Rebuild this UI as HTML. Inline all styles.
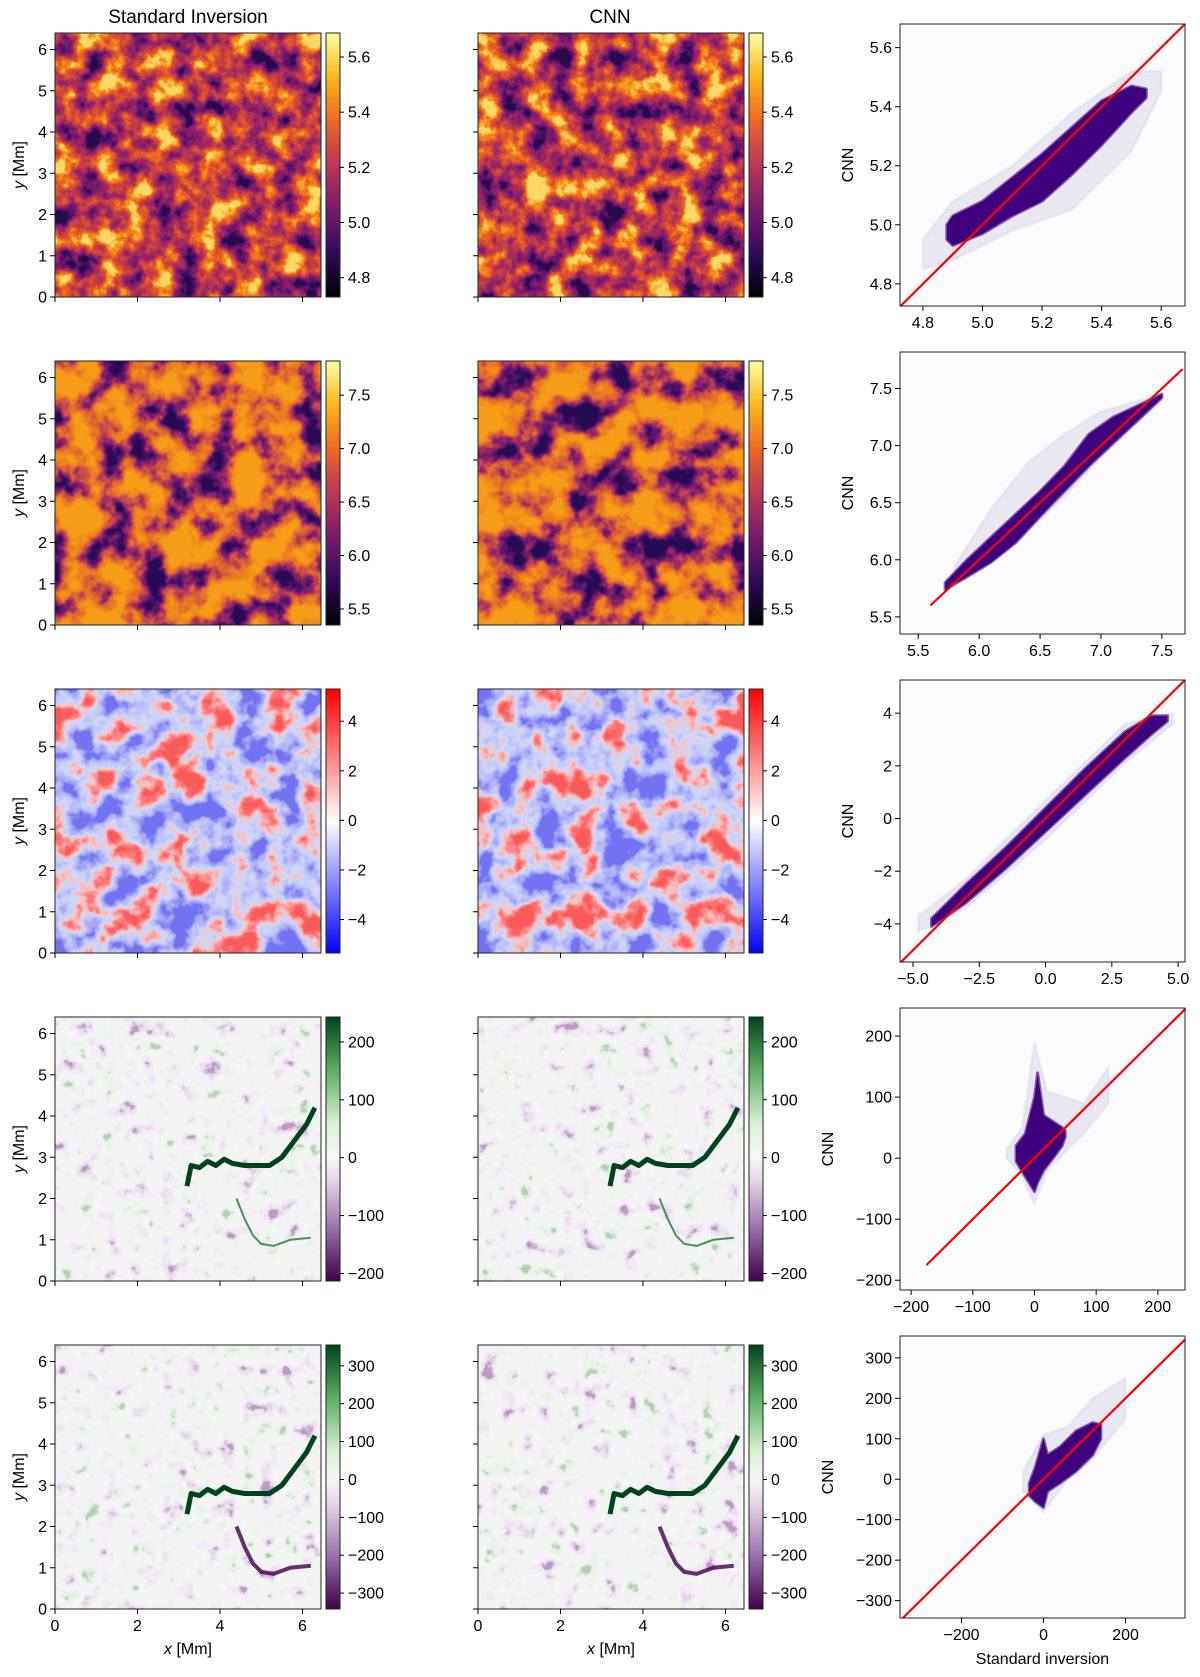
<!DOCTYPE html>
<html><head><meta charset="utf-8">
<style>
html,body{margin:0;padding:0;background:#fff;}
svg{display:block;font-family:"Liberation Sans","DejaVu Sans",sans-serif;}
</style></head>
<body>
<svg id="fig" width="1200" height="1677" viewBox="0 0 1200 1677" xmlns="http://www.w3.org/2000/svg">
<defs>
  <filter id="f-inferno" x="0" y="0" width="1" height="1" color-interpolation-filters="sRGB">
    <feTurbulence type="fractalNoise" baseFrequency="0.04" numOctaves="5" seed="3"/>
    <feColorMatrix type="matrix" values="1 0 0 0 0 1 0 0 0 0 1 0 0 0 0 0 0 0 0 1"/>
    <feComponentTransfer><feFuncR type="linear" slope="2.1" intercept="-0.52"/><feFuncG type="linear" slope="2.1" intercept="-0.52"/><feFuncB type="linear" slope="2.1" intercept="-0.52"/></feComponentTransfer>
    <feComponentTransfer>
      <feFuncR type="table" tableValues="0.15 0.35 0.5 0.62 0.74 0.85 0.93 0.98 0.99"/>
      <feFuncG type="table" tableValues="0.04 0.07 0.11 0.15 0.22 0.3 0.42 0.6 0.85"/>
      <feFuncB type="table" tableValues="0.3 0.42 0.42 0.38 0.3 0.2 0.12 0.1 0.4"/>
    </feComponentTransfer>
  </filter>
  <filter id="f-inferno2" x="0" y="0" width="1" height="1" color-interpolation-filters="sRGB">
    <feTurbulence type="fractalNoise" baseFrequency="0.03" numOctaves="4" seed="8"/>
    <feColorMatrix type="matrix" values="1 0 0 0 0 1 0 0 0 0 1 0 0 0 0 0 0 0 0 1"/>
    <feComponentTransfer><feFuncR type="linear" slope="2.6" intercept="-0.7"/><feFuncG type="linear" slope="2.6" intercept="-0.7"/><feFuncB type="linear" slope="2.6" intercept="-0.7"/></feComponentTransfer>
    <feComponentTransfer>
      <feFuncR type="table" tableValues="0.15 0.35 0.58 0.8 0.91 0.95 0.97"/>
      <feFuncG type="table" tableValues="0.04 0.08 0.15 0.3 0.45 0.55 0.62"/>
      <feFuncB type="table" tableValues="0.33 0.43 0.4 0.28 0.15 0.1 0.1"/>
    </feComponentTransfer>
  </filter>
  <filter id="f-bwr" x="0" y="0" width="1" height="1" color-interpolation-filters="sRGB">
    <feTurbulence type="fractalNoise" baseFrequency="0.03" numOctaves="4" seed="5"/>
    <feColorMatrix type="matrix" values="1 0 0 0 0 1 0 0 0 0 1 0 0 0 0 0 0 0 0 1"/>
    <feComponentTransfer><feFuncR type="linear" slope="2.5" intercept="-0.8"/><feFuncG type="linear" slope="2.5" intercept="-0.8"/><feFuncB type="linear" slope="2.5" intercept="-0.8"/></feComponentTransfer>
    <feComponentTransfer>
      <feFuncR type="table" tableValues="0.45 0.65 0.75 0.82 0.98 1 0.98"/>
      <feFuncG type="table" tableValues="0.45 0.65 0.77 0.85 0.75 0.5 0.35"/>
      <feFuncB type="table" tableValues="0.95 0.97 0.98 0.98 0.75 0.5 0.35"/>
    </feComponentTransfer>
  </filter>
  <filter id="f-prgn" x="0" y="0" width="1" height="1" color-interpolation-filters="sRGB">
    <feTurbulence type="fractalNoise" baseFrequency="0.05" numOctaves="4" seed="11"/>
    <feColorMatrix type="matrix" values="1 0 0 0 0 1 0 0 0 0 1 0 0 0 0 0 0 0 0 1"/>
    <feComponentTransfer><feFuncR type="linear" slope="1.6" intercept="-0.3"/><feFuncG type="linear" slope="1.6" intercept="-0.3"/><feFuncB type="linear" slope="1.6" intercept="-0.3"/></feComponentTransfer>
    <feComponentTransfer>
      <feFuncR type="table" tableValues="0.75 0.9 0.94 0.95 0.96 0.96 0.95 0.93 0.9 0.7"/>
      <feFuncG type="table" tableValues="0.6 0.85 0.91 0.94 0.96 0.96 0.96 0.95 0.94 0.82"/>
      <feFuncB type="table" tableValues="0.78 0.92 0.95 0.96 0.96 0.96 0.95 0.93 0.9 0.7"/>
    </feComponentTransfer>
  </filter>
  <linearGradient id="g-inferno" x1="0" y1="1" x2="0" y2="0">
    <stop offset="0" stop-color="#000004"/><stop offset="0.17" stop-color="#320a5e"/><stop offset="0.33" stop-color="#781b6c"/><stop offset="0.5" stop-color="#bb3755"/><stop offset="0.67" stop-color="#ed6925"/><stop offset="0.83" stop-color="#fbb61a"/><stop offset="1" stop-color="#fcffa4"/>
  </linearGradient>
  <linearGradient id="g-bwr" x1="0" y1="1" x2="0" y2="0">
    <stop offset="0" stop-color="#0000ff"/><stop offset="0.5" stop-color="#ffffff"/><stop offset="1" stop-color="#ff0000"/>
  </linearGradient>
  <linearGradient id="g-prgn4" x1="0" y1="1" x2="0" y2="0">
    <stop offset="0" stop-color="#40004b"/><stop offset="0.2" stop-color="#9970ab"/><stop offset="0.38" stop-color="#e7d4e8"/><stop offset="0.47" stop-color="#f7f7f7"/><stop offset="0.6" stop-color="#d9f0d3"/><stop offset="0.8" stop-color="#5aae61"/><stop offset="1" stop-color="#00441b"/>
  </linearGradient>
  <linearGradient id="g-prgn5" x1="0" y1="1" x2="0" y2="0">
    <stop offset="0" stop-color="#40004b"/><stop offset="0.2" stop-color="#9970ab"/><stop offset="0.4" stop-color="#e7d4e8"/><stop offset="0.49" stop-color="#f7f7f7"/><stop offset="0.6" stop-color="#d9f0d3"/><stop offset="0.8" stop-color="#5aae61"/><stop offset="1" stop-color="#00441b"/>
  </linearGradient>
</defs>
<g id="root"></g>
</svg>
<script>
// ---- layout rows ----
var rowTops = [33, 361, 689, 1017, 1345];
// ---- colorbar data ----
var cbRanges = [[4.73, 5.687], [5.35, 7.82], [-5.35, 5.3], [-213, 243], [-342, 355]];
var cbTicks = [[4.8, 5.0, 5.2, 5.4, 5.6], [5.5, 6.0, 6.5, 7.0, 7.5], [-4, -2, 0, 2, 4], [-200, -100, 0, 100, 200], [-300, -200, -100, 0, 100, 200, 300]];
var cbLabels = [["4.8","5.0","5.2","5.4","5.6"], ["5.5","6.0","6.5","7.0","7.5"], ["\u22124","\u22122","0","2","4"], ["\u2212200","\u2212100","0","100","200"], ["\u2212300","\u2212200","\u2212100","0","100","200","300"]];
// ---- map axis data (Mm) ----
var mmTicks = [0, 1, 2, 3, 4, 5, 6];
var mmXTicks = [0, 2, 4, 6];
// filament feature (Mm coordinates) in field maps
var filX = [3.2, 3.3, 3.5, 3.7, 3.9, 4.1, 4.3, 4.6, 4.9, 5.2, 5.5, 5.8, 6.1, 6.3];
var filY = [2.3, 2.8, 2.75, 2.9, 2.8, 2.95, 2.85, 2.8, 2.8, 2.8, 3.0, 3.4, 3.8, 4.2];
var fil2X = [4.4, 4.6, 4.8, 5.0, 5.3, 5.7, 6.2];
var fil2Y = [2.0, 1.5, 1.1, 0.9, 0.85, 1.0, 1.05];
// ---- scatter data ----
var scXRange = [[4.723, 5.68], [5.35, 7.69], [-5.49, 5.26], [-218, 244], [-350, 345]];
var scYRange = [[4.725, 5.68], [5.35, 7.82], [-5.45, 5.26], [-216, 246], [-343, 354]];
var scXTicks = [[4.8,5.0,5.2,5.4,5.6],[5.5,6.0,6.5,7.0,7.5],[-5,-2.5,0,2.5,5],[-200,-100,0,100,200],[-200,0,200]];
var scXLabels = [["4.8","5.0","5.2","5.4","5.6"],["5.5","6.0","6.5","7.0","7.5"],["\u22125.0","\u22122.5","0.0","2.5","5.0"],["\u2212200","\u2212100","0","100","200"],["\u2212200","0","200"]];
var scYTicks = [[4.8,5.0,5.2,5.4,5.6],[5.5,6.0,6.5,7.0,7.5],[-4,-2,0,2,4],[-200,-100,0,100,200],[-300,-200,-100,0,100,200,300]];
var scYLabels = [["4.8","5.0","5.2","5.4","5.6"],["5.5","6.0","6.5","7.0","7.5"],["\u22124","\u22122","0","2","4"],["\u2212200","\u2212100","0","100","200"],["\u2212300","\u2212200","\u2212100","0","100","200","300"]];
var lineEnds = [[4.725, 5.68], [5.6, 7.67], [-5.45, 5.26], [-175, 245], [-343, 345]];
// dense band: x, lower y, upper y
var denseX = [[4.88,4.9,5.0,5.1,5.2,5.3,5.4,5.5,5.55],[5.72,5.9,6.1,6.3,6.5,6.7,6.9,7.1,7.3,7.5],[-4.3,-3,-1.5,0,1.5,3,4,4.6],[-30,-15,0,5,15,30,45,50],[-35,-20,0,10,40,80,120,140]];
var denseLo = [[4.95,4.93,4.97,5.03,5.08,5.17,5.27,5.38,5.43],[5.74,5.85,5.98,6.15,6.38,6.6,6.82,7.02,7.22,7.42],[-4.1,-3.2,-1.9,-0.5,0.9,2.3,3.2,3.7],[-5,-30,-55,-40,-20,0,20,35],[-40,-55,-70,-30,-10,20,60,100]];
var denseHi = [[5.0,5.03,5.08,5.16,5.24,5.33,5.42,5.47,5.46],[5.8,6.0,6.2,6.4,6.6,6.82,7.1,7.25,7.35,7.45],[-3.8,-2.5,-1.1,0.4,1.9,3.3,3.9,3.9],[20,40,100,140,70,60,50,45],[-10,30,100,60,80,120,140,135]];
// halo band (sparse counts)
var haloX = [[4.8,4.9,5.1,5.3,5.5,5.6],[5.8,6.1,6.4,6.7,7.0,7.5],[-4.8,-3,0,3,4.8],[-45,-20,0,20,50,80,120],[-50,0,60,120,200]];
var haloLo = [[4.85,4.88,4.98,5.05,5.25,5.45],[5.8,5.98,6.25,6.55,6.9,7.4],[-4.3,-3.4,-0.8,2.1,3.6],[0,-30,-75,-20,10,40,90],[-30,-80,0,50,150]];
var haloHi = [[4.95,5.08,5.2,5.38,5.52,5.52],[5.95,6.45,6.85,7.1,7.3,7.45],[-3.7,-2.3,0.7,3.6,4.0],[15,50,190,110,100,90,150],[20,110,130,200,250]];

var NS = "http://www.w3.org/2000/svg";
var root = document.getElementById('root');
function mk(tag, attrs, parent) {
  var e = document.createElementNS(NS, tag);
  for (var k in attrs) e.setAttribute(k, attrs[k]);
  (parent || root).appendChild(e);
  return e;
}
function txt(s, x, y, anchor, size, parent) {
  var t = mk('text', {x: x, y: y, 'text-anchor': anchor || 'middle', 'font-size': size || 15, fill: '#000'}, parent);
  t.textContent = s;
  return t;
}
var mapFilters = ['f-inferno', 'f-inferno2', 'f-bwr', 'f-prgn', 'f-prgn'];
var cbGrads = ['g-inferno', 'g-inferno', 'g-bwr', 'g-prgn4', 'g-prgn5'];
var colX = [55, 478];
var W = 266, H = 264;

var t1 = txt('Standard Inversion', 188, 23, 'middle', 19);


var t2 = txt('CNN', 610, 23, 'middle', 19);



function drawRow(r) {
  var rowTop = rowTops[r];
  for (var c = 0; c < 2; c++) {
    var x0 = colX[c];
    var g = mk('g', {});
    
    
    var img = mk('rect', {x: x0, y: rowTop, width: W, height: H, filter: 'url(#' + mapFilters[r] + ')', fill: '#888'}, g);
    
    
    var mmScale = H / 6.4;
    if (r >= 3) {
      var MX = function (v) { return x0 + v * mmScale; };
      var MY = function (v) { return rowTop + H - v * mmScale; };
      var p1 = filX.map(function (v, i) { return MX(v).toFixed(1) + ',' + MY(filY[i]).toFixed(1); }).join(' ');
      var f1 = mk('polyline', {points: p1, fill: 'none', stroke: '#00441b', 'stroke-width': 5, 'stroke-linejoin': 'round'}, g);
      
      
      var p2 = fil2X.map(function (v, i) { return MX(v).toFixed(1) + ',' + MY(fil2Y[i]).toFixed(1); }).join(' ');
      var f2 = mk('polyline', {points: p2, fill: 'none', stroke: r === 4 ? '#40004b' : '#1b7837', 'stroke-width': r === 4 ? 4 : 2, 'stroke-linejoin': 'round', 'stroke-opacity': 0.8}, g);
      
      
    }
    mk('rect', {x: x0, y: rowTop, width: W, height: H, fill: 'none', stroke: '#222', 'stroke-width': 1}, g);
    mmTicks.forEach(function (v) {
      var yy = rowTop + H - v * mmScale;
      mk('line', {x1: x0 - 5, x2: x0, y1: yy, y2: yy, stroke: '#000', 'stroke-width': 1}, g);
      if (c === 0) {
        var tl = txt(String(v), x0 - 8, yy + 5.5, 'end', 16, g);
        
        
      }
    });
    mmXTicks.forEach(function (v) {
      var xx = x0 + v * mmScale;
      mk('line', {x1: xx, x2: xx, y1: rowTop + H, y2: rowTop + H + 5, stroke: '#000', 'stroke-width': 1}, g);
      if (r === 4) {
        var tl = txt(String(v), xx, rowTop + H + 22, 'middle', 16, g);
        
        
      }
    });
    if (c === 0) {
      var yl = mk('text', {x: 0, y: 0, 'text-anchor': 'middle', 'font-size': 16, transform: 'translate(24,' + (rowTop + H/2) + ') rotate(-90)'}, g);
      yl.innerHTML = '<tspan font-style="italic">y</tspan> [Mm]';
      
      
    }
    if (r === 4) {
      var xl = mk('text', {x: x0 + H/2 + 1, y: rowTop + H + 45, 'text-anchor': 'middle', 'font-size': 16}, g);
      xl.innerHTML = '<tspan font-style="italic">x</tspan> [Mm]';
      
      
    }
    var cbx = x0 + 271, cbw = 14;
    var cg = mk('g', {}, g);
    
    
    mk('rect', {x: cbx, y: rowTop, width: cbw, height: H, fill: 'url(#' + cbGrads[r] + ')', stroke: '#222', 'stroke-width': 1}, cg);
    var lo = cbRanges[r][0], hi = cbRanges[r][1];
    cbTicks[r].forEach(function (v, i) {
      var yy = rowTop + H - (v - lo) / (hi - lo) * H;
      mk('line', {x1: cbx + cbw, x2: cbx + cbw + 4, y1: yy, y2: yy, stroke: '#000'}, cg);
      var tl = txt(cbLabels[r][i], cbx + cbw + 8, yy + 5.5, 'start', 16, cg);
      
      
    });
  }
  var sx0 = 900, sx1 = 1185, sy0 = rowTop - 9, sy1 = rowTop + 273;
  var xr = scXRange[r], yr = scYRange[r];
  var X = function (v) { return sx0 + (v - xr[0]) / (xr[1] - xr[0]) * (sx1 - sx0); };
  var Y = function (v) { return sy1 - (v - yr[0]) / (yr[1] - yr[0]) * (sy1 - sy0); };
  var sg = mk('g', {});
  
  
  mk('rect', {x: sx0, y: sy0, width: sx1 - sx0, height: sy1 - sy0, fill: '#fbfafd'}, sg);
  function band(xs, los, his, fill, op, name) {
    var pts = [];
    for (var i = 0; i < xs.length; i++) pts.push(X(xs[i]).toFixed(1) + ',' + Y(his[i]).toFixed(1));
    for (var j = xs.length - 1; j >= 0; j--) pts.push(X(xs[j]).toFixed(1) + ',' + Y(los[j]).toFixed(1));
    var p = mk('polygon', {points: pts.join(' '), fill: fill, 'fill-opacity': op, stroke: fill, 'stroke-opacity': op * 0.6, 'stroke-width': 3, 'stroke-linejoin': 'round'}, sg);
    
    
  }
  band(haloX[r], haloLo[r], haloHi[r], '#bcbddc', 0.3, 'histogram-halo');
  band(denseX[r], denseLo[r], denseHi[r], '#3f007d', 1, 'histogram-dense');
  var ln = mk('line', {x1: X(lineEnds[r][0]), y1: Y(lineEnds[r][0]), x2: X(lineEnds[r][1]), y2: Y(lineEnds[r][1]), stroke: '#ff0000', 'stroke-width': 2.2}, sg);
  
  
  mk('rect', {x: sx0, y: sy0, width: sx1 - sx0, height: sy1 - sy0, fill: 'none', stroke: '#222', 'stroke-width': 1}, sg);
  scXTicks[r].forEach(function (v, i) {
    var xx = X(v);
    mk('line', {x1: xx, x2: xx, y1: sy1, y2: sy1 + 5, stroke: '#000'}, sg);
    var tl = txt(scXLabels[r][i], xx, sy1 + 22, 'middle', 16, sg);
    
    
  });
  scYTicks[r].forEach(function (v, i) {
    var yy = Y(v);
    mk('line', {x1: sx0 - 5, x2: sx0, y1: yy, y2: yy, stroke: '#000'}, sg);
    var tl = txt(scYLabels[r][i], sx0 - 8, yy + 5.5, 'end', 16, sg);
    
    
  });
  var cl = mk('text', {x: 0, y: 0, 'text-anchor': 'middle', 'font-size': 16, transform: 'translate(' + (r >= 3 ? 833 : 853) + ',' + ((sy0 + sy1) / 2) + ') rotate(-90)'}, sg);
  cl.textContent = 'CNN';
  
  
  if (r === 4) {
    var xl2 = txt('Standard inversion', (sx0 + sx1) / 2, sy1 + 46, 'middle', 16, sg);
    
    
  }
}
for (var rr = 0; rr < 5; rr++) drawRow(rr);
</script>
</body></html>
